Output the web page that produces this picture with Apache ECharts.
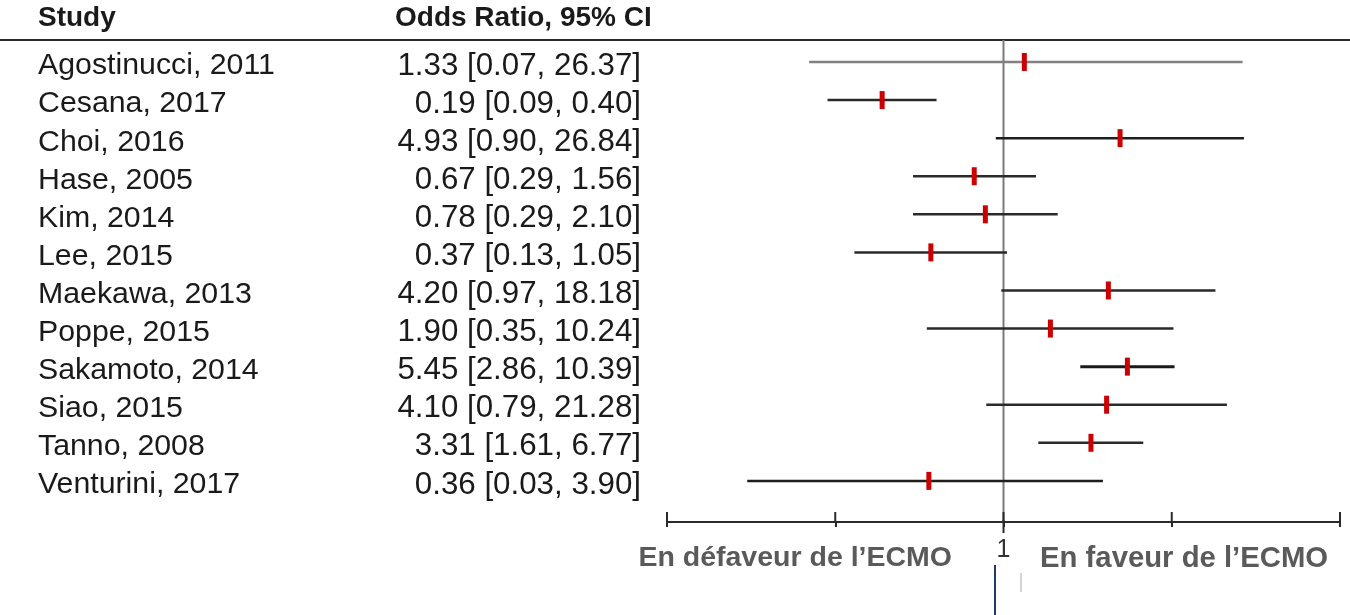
<!DOCTYPE html>
<html>
<head>
<meta charset="utf-8">
<script src="https://cdn.jsdelivr.net/npm/echarts@6/dist/echarts.min.js"></script>
<style>
html,body{margin:0;padding:0;background:#fff;}
#chart{width:1350px;height:615px;}
</style>
</head>
<body>
<div id="chart"></div>
<script>
// ---- data ----
const studies = ['Agostinucci, 2011','Cesana, 2017','Choi, 2016','Hase, 2005','Kim, 2014','Lee, 2015','Maekawa, 2013','Poppe, 2015','Sakamoto, 2014','Siao, 2015','Tanno, 2008','Venturini, 2017'];
const oddsRatios = [1.33, 0.19, 4.93, 0.67, 0.78, 0.37, 4.20, 1.90, 5.45, 4.10, 3.31, 0.36];
const ciLow =      [0.07, 0.09, 0.90, 0.29, 0.29, 0.13, 0.97, 0.35, 2.86, 0.79, 1.61, 0.03];
const ciHigh =     [26.37, 0.40, 26.84, 1.56, 2.10, 1.05, 18.18, 10.24, 10.39, 21.28, 6.77, 3.90];
const xTicks = [0.01, 0.1, 1, 10, 100];
const xTickLabels = {1: '1'};
const headerLabels = ['Study', 'Odds Ratio, 95% CI'];
const directionLabels = ['En défaveur de l\u2019ECMO', 'En faveur de l\u2019ECMO'];

// ---- styles ----
const FONT = "'Liberation Sans', Arial, Helvetica, sans-serif";
const ciColors = ['#808080','#2a2a2a','#1e1e1e','#2a2a2a','#2a2a2a','#2a2a2a','#2a2a2a','#2a2a2a','#1a1a1a','#2a2a2a','#2a2a2a','#1e1e1e'];
const ciWidths = [2.5,2.5,2.5,2.5,2.5,2.5,2.5,2.5,3,2.5,2.5,2.5];
const Y_MIN = -0.578, Y_MAX = 12.08;

const chart = echarts.init(document.getElementById('chart'));
const rows = studies.map((s, i) => [i, oddsRatios[i], ciLow[i], ciHigh[i]]);
const fmt = v => v.toFixed(2);

const option = {
  animation: false,
  backgroundColor: '#fff',
  grid: {left: 667, right: 10, top: 40, bottom: 93, containLabel: false},
  xAxis: {
    type: 'log', logBase: 10, min: xTicks[0], max: xTicks[xTicks.length - 1],
    position: 'bottom',
    axisLine: {show: true, onZero: false, lineStyle: {color: '#2a2a2a', width: 2}},
    axisTick: {show: true, length: 5, lineStyle: {color: '#2a2a2a', width: 2}},
    axisLabel: {
      show: true, margin: 16, fontSize: 25, fontFamily: FONT, color: '#333',
      formatter: v => xTickLabels[Math.round(v * 1000) / 1000] || ''
    },
    splitLine: {show: false}
  },
  yAxis: {type: 'value', inverse: true, min: Y_MIN, max: Y_MAX, show: false},
  graphic: [
    {type: 'text', left: 38, top: 4, style: {text: headerLabels[0], font: 'bold 28px ' + FONT, fill: '#1a1a1a'}},
    {type: 'text', left: 395, top: 4, style: {text: headerLabels[1], font: 'bold 28px ' + FONT, fill: '#1a1a1a'}},
    {type: 'line', shape: {x1: 0, y1: 40, x2: 1350, y2: 40}, style: {stroke: '#2a2a2a', lineWidth: 2}},
    {type: 'text', right: 1350 - 952, top: 544, style: {text: directionLabels[0], font: 'bold 28.5px ' + FONT, fill: '#5a5a5a'}},
    {type: 'text', left: 1040, top: 544, style: {text: directionLabels[1], font: 'bold 29.3px ' + FONT, fill: '#5a5a5a'}},
    {type: 'line', shape: {x1: 995, y1: 565, x2: 995, y2: 615}, style: {stroke: '#1d3b62', lineWidth: 2}},
    {type: 'line', shape: {x1: 1021, y1: 573, x2: 1021, y2: 592}, style: {stroke: '#aaaaaa', lineWidth: 1}}
  ],
  series: [
    { // reference line at OR = 1
      type: 'custom', clip: false, silent: true,
      data: [[1]],
      renderItem: (params, api) => {
        const top = api.coord([1, Y_MIN]);
        const bot = api.coord([1, Y_MAX]);
        return {type: 'group', children: [
          {type: 'line', shape: {x1: top[0], y1: top[1], x2: bot[0], y2: bot[1]}, style: {stroke: '#7a7a7a', lineWidth: 2}},
          {type: 'line', shape: {x1: bot[0], y1: bot[1] - 2, x2: bot[0], y2: bot[1] + 11}, style: {stroke: '#2a2a2a', lineWidth: 2}}
        ]};
      }
    },
    { // upper halves of axis ticks
      type: 'custom', clip: false, silent: true,
      data: xTicks.map(v => [v]),
      renderItem: (params, api) => {
        const p = api.coord([api.value(0), Y_MAX]);
        return {type: 'line', shape: {x1: p[0], y1: p[1] - 10, x2: p[0], y2: p[1]},
          style: {stroke: '#2a2a2a', lineWidth: 2}};
      }
    },
    { // CI lines
      type: 'custom', clip: false, silent: true,
      data: rows,
      renderItem: (params, api) => {
        const i = api.value(0);
        const a = api.coord([api.value(2), i]);
        const b = api.coord([api.value(3), i]);
        return {type: 'line', shape: {x1: a[0], y1: a[1], x2: b[0], y2: b[1]},
          style: {stroke: ciColors[i], lineWidth: ciWidths[i]}};
      }
    },
    { // point estimates
      type: 'custom', clip: false, silent: true,
      data: rows,
      renderItem: (params, api) => {
        const i = api.value(0);
        const p = api.coord([api.value(1), i]);
        return {type: 'rect', shape: {x: p[0] - 2.5, y: p[1] - 9, width: 5, height: 18},
          style: {fill: '#cc0000'}};
      }
    },
    { // row labels
      type: 'custom', clip: false, silent: true,
      data: rows,
      renderItem: (params, api) => {
        const i = api.value(0);
        const p = api.coord([1, i]);
        const y = p[1] + 4;
        return {type: 'group', children: [
          {type: 'text', style: {x: 38, y: y, text: studies[i], font: '30.3px ' + FONT, fill: '#1a1a1a', textAlign: 'left', textVerticalAlign: 'middle'}},
          {type: 'text', style: {x: 641, y: y, text: fmt(oddsRatios[i]) + ' [' + fmt(ciLow[i]) + ', ' + fmt(ciHigh[i]) + ']', font: '31.3px ' + FONT, fill: '#1a1a1a', textAlign: 'right', textVerticalAlign: 'middle'}}
        ]};
      }
    }
  ]
};
chart.setOption(option);
</script>
</body>
</html>
